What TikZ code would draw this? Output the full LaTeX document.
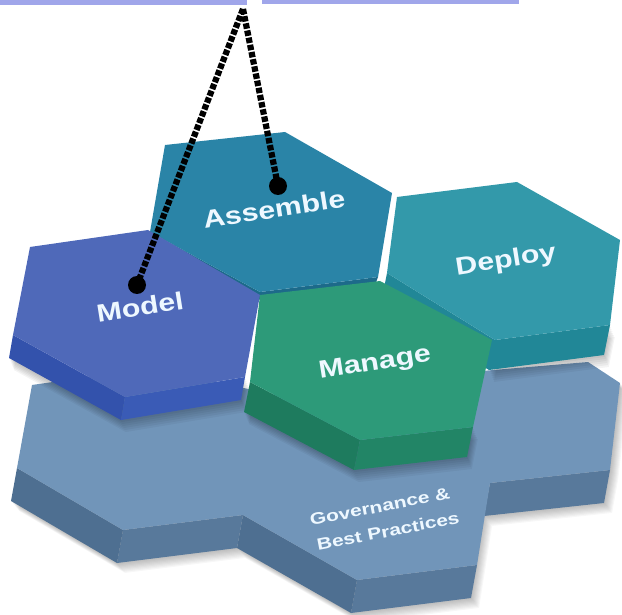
\documentclass[tikz,border=0pt]{standalone}
\usepackage{fontspec}
\newfontfamily\labfont{Liberation Sans}
\definecolor{barc}{HTML}{A0A6EA}
\definecolor{modtop}{HTML}{4F69B9}
\definecolor{modsideL}{HTML}{3352AC}
\definecolor{modsideB}{HTML}{3A5BB6}
\definecolor{asstop}{HTML}{2A84A7}
\definecolor{assside}{HTML}{1D6A8A}
\definecolor{deptop}{HTML}{3399AA}
\definecolor{depside}{HTML}{218797}
\definecolor{mantop}{HTML}{2D9A79}
\definecolor{mansideL}{HTML}{1E7B5E}
\definecolor{mansideB}{HTML}{228566}
\definecolor{basetop}{HTML}{7195B9}
\definecolor{basesideL}{HTML}{4E6F91}
\definecolor{basesideB}{HTML}{58799B}
\definecolor{textc}{HTML}{EEF8FF}
\newcommand\baseoutline[1]{\fill[#1] (32,385) -- (150,368) -- (300,400) -- (470,372) -- (588,362) -- (620,383) -- (610,470) -- (604,503) -- (484,516) -- (471,598) -- (351,613) -- (237,548) -- (117,563) -- (11,501) -- (17,468) -- cycle;}
\begin{document}
\begin{tikzpicture}[x=1pt,y=-1pt,
  hexlabel/.style={text=textc,font=\labfont\bfseries\fontsize{31}{31}\selectfont,inner sep=0pt,rotate=9},
  govlabel/.style={text=textc,font=\labfont\bfseries\fontsize{21}{23}\selectfont,inner sep=0pt,rotate=11},
  dashline/.style={line width=6.2pt,black,dash pattern=on 5.5pt off 1.8pt},
  dotmark/.style={circle,fill=black,minimum size=18pt,inner sep=0pt}]
\useasboundingbox (0,0) rectangle (622,615);
% top bars
\fill[barc] (0,0) rectangle (247,5);
\fill[barc] (262,0) rectangle (519,4.5);
% drop shadow of base
\foreach \k in {1,...,9}{
  \begin{scope}[shift={(\k*0.9,\k*1.1)}]
    \baseoutline{black,opacity=0.03}
  \end{scope}
}
% base plate sides
\fill[basesideB] (610,470) -- (490,483) -- (484,516) -- (604,503) -- cycle;
\fill[basesideB] (477,565) -- (357,580) -- (351,613) -- (471,598) -- cycle;
\fill[basesideL] (357,580) -- (243,515) -- (237,548) -- (351,613) -- cycle;
\fill[basesideB] (243,515) -- (123,530) -- (117,563) -- (237,548) -- cycle;
\fill[basesideL] (123,530) -- (17,468) -- (11,501) -- (117,563) -- cycle;
% base plate top
\fill[basetop] (32,385) -- (150,368) -- (300,400) -- (470,372) -- (588,362) -- (620,383) -- (610,470) -- (490,483) -- (477,565) -- (357,580) -- (243,515) -- (123,530) -- (17,468) -- cycle;
% soft shadows cast by tiles
\foreach \k in {1,...,6}{
  \begin{scope}[shift={(\k*0.8,\k*2)}]
    \fill[black,opacity=0.045] (13,335) -- (125,397) -- (245,377) -- (241,400) -- (121,420) -- (9,358) -- cycle;
    \fill[black,opacity=0.045] (250,382) -- (360,440) -- (473,427) -- (467,457) -- (354,470) -- (244,412) -- cycle;
    \fill[black,opacity=0.045] (495,340) -- (610,325) -- (604,355) -- (489,370) -- cycle;
  \end{scope}
}
% Assemble tile
\fill[assside] (150,232) -- (260,292) -- (378,277) -- (375,285) -- (257,300) -- (147,240) -- cycle;
\fill[asstop] (165,145) -- (285,132) -- (392,193) -- (378,277) -- (260,292) -- (150,232) -- cycle;
% Deploy tile
\fill[depside] (387,273) -- (495,340) -- (610,325) -- (604,355) -- (489,370) -- (381,303) -- cycle;
\fill[deptop] (397,197) -- (517,182) -- (620,240) -- (610,325) -- (495,340) -- (387,273) -- cycle;
% Model tile
\fill[modsideL] (13,335) -- (125,397) -- (121,420) -- (9,358) -- cycle;
\fill[modsideB] (125,397) -- (245,377) -- (241,400) -- (121,420) -- cycle;
\fill[modtop] (30,247) -- (148,230) -- (260,295) -- (245,377) -- (125,397) -- (13,335) -- cycle;
% Manage tile
\fill[mansideL] (250,382) -- (360,440) -- (354,470) -- (244,412) -- cycle;
\fill[mansideB] (360,440) -- (473,427) -- (467,457) -- (354,470) -- cycle;
\fill[mantop] (260,295) -- (380,281) -- (492,340) -- (473,427) -- (360,440) -- (250,382) -- cycle;
% labels
\node[hexlabel] (tAssemble) at (274,209) {\scalebox{0.98}[0.8]{Assemble}};
\node[hexlabel] (tModel) at (140,307) {\scalebox{0.98}[0.8]{Model}};
\node[hexlabel] (tDeploy) at (506,261) {\scalebox{0.98}[0.8]{Deploy}};
\node[hexlabel] (tManage) at (375,364) {\scalebox{0.98}[0.8]{Manage}};
\node[govlabel,anchor=south west] (tGov1) at (311,526) {\scalebox{1}[0.78]{Governance \&}};
\node[govlabel,anchor=south west] (tGov2) at (318,551) {\scalebox{1}[0.78]{Best Practices}};
% connectors
\coordinate (apex) at (243,9);
\node[dotmark] (dotA) at (278,186) {};
\node[dotmark] (dotM) at (137,285) {};
\draw[dashline] (apex) -- (dotA.center);
\draw[dashline] (apex) -- (dotM.center);
\end{tikzpicture}
\end{document}
